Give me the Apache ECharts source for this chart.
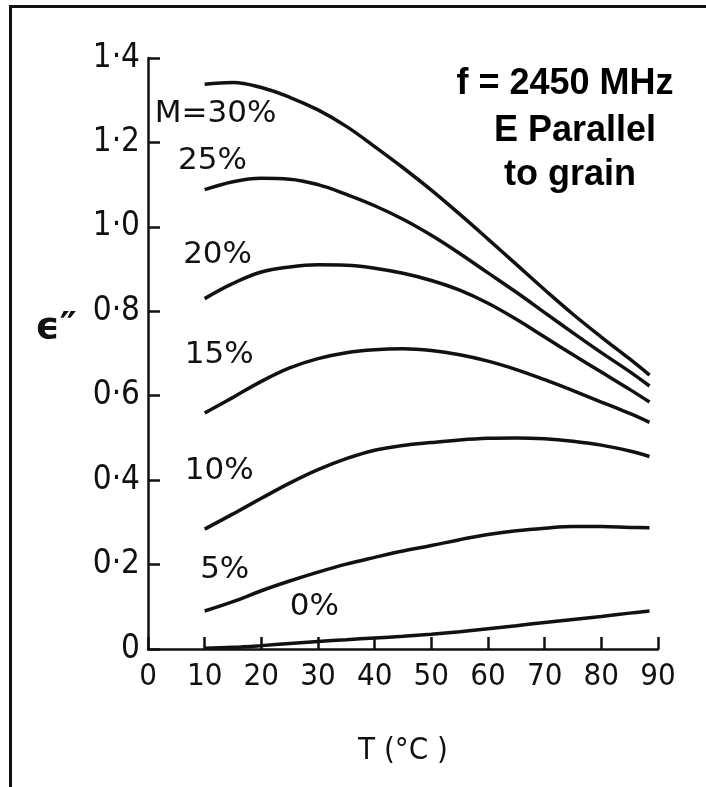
<!DOCTYPE html>
<html>
<head>
<meta charset="utf-8">
<script src="https://cdn.jsdelivr.net/npm/echarts@6/dist/echarts.min.js"></script>
<style>html,body{margin:0;padding:0;background:#fff}#chart{width:706px;height:787px}</style>
</head>
<body>
<div id="chart"></div>
<script>
/*----------data----------*/
var temps=[10,15,20,25,30,35,40,45,50,55,60,65,70,75,80,85,88.5];	// T (°C)
var m30=[1.338,1.342,1.33,1.307,1.277,1.238,1.19,1.14,1.087,1.03,0.971,0.911,0.851,0.793,0.739,0.687,0.649];
var m25=[1.088,1.107,1.115,1.113,1.1,1.077,1.05,1.018,0.98,0.937,0.891,0.845,0.797,0.749,0.702,0.657,0.623];
var m20=[0.83,0.866,0.893,0.905,0.91,0.909,0.902,0.89,0.873,0.85,0.819,0.781,0.739,0.697,0.656,0.615,0.585];
var m15=[0.559,0.596,0.634,0.666,0.688,0.702,0.709,0.711,0.707,0.697,0.682,0.662,0.638,0.612,0.585,0.558,0.537];
var m10=[0.284,0.32,0.357,0.393,0.425,0.451,0.471,0.482,0.489,0.495,0.499,0.5,0.498,0.492,0.483,0.469,0.456];
var m5=[0.09,0.112,0.138,0.161,0.182,0.201,0.217,0.232,0.245,0.259,0.271,0.28,0.286,0.29,0.29,0.288,0.287];
var m0=[0.002,0.004,0.008,0.013,0.018,0.022,0.026,0.03,0.035,0.041,0.048,0.055,0.063,0.07,0.077,0.085,0.09];
var curveNames=["M=30%","25%","20%","15%","10%","5%","0%"];
var curveValues=[m30,m25,m20,m15,m10,m5,m0];
var labelT=[1.2,5.3,6.2,6.5,6.5,9.2,25];	// where each curve name sits
var labelE=[1.268,1.156,0.934,0.697,0.422,0.187,0.1];
var titleLines=["f = 2450 MHz","E Parallel","to grain"];
/*----------chart---------*/
var chart=echarts.init(document.getElementById("chart"));
function pairs(ys){
	var out=[];
	for(var i=0;i<temps.length;i++){out.push([temps[i],ys[i]]);}
	return out;
}
var series=[];
for(var i=0;i<curveValues.length;i++){
	series.push({
		type:"line",
		name:curveNames[i],
		data:pairs(curveValues[i]),
		smooth:0.4,
		showSymbol:false,
		lineStyle:{color:"#111",width:3.5}
	});
}
var tickFont={fontFamily:"DejaVu Sans Condensed, DejaVu Sans",fontSize:31,color:"#111"};
var option={
	animation:false,
	backgroundColor:"#fff",
	grid:{left:148,right:48,top:58,bottom:138},
	xAxis:{
		type:"value",min:0,max:90,interval:10,
		name:"T (°C )",nameLocation:"middle",nameGap:86,
		nameTextStyle:{fontFamily:"DejaVu Sans Condensed, DejaVu Sans",fontSize:31,color:"#111"},
		axisLine:{lineStyle:{color:"#111",width:2.5}},
		axisTick:{inside:true,length:12,lineStyle:{color:"#111",width:2.5}},
		splitLine:{show:false},
		axisLabel:Object.assign({margin:12},tickFont)
	},
	yAxis:{
		type:"value",min:0,max:1.4,interval:0.2,
		axisLine:{show:true,lineStyle:{color:"#111",width:2.5}},
		axisTick:{show:true,inside:true,length:12,lineStyle:{color:"#111",width:2.5}},
		splitLine:{show:false},
		axisLabel:Object.assign({margin:8,formatter:function(v){return v===0?"0":v.toFixed(1).replace(".","·");}},tickFont,{fontSize:33})
	},
	series:series
};
chart.setOption(option);
/*----------annotations---*/
var graphics=[
	{type:"polyline",shape:{points:[[10.5,787],[10.5,6.5],[706,6.5]]},style:{stroke:"#111",lineWidth:3,fill:null}},
	{type:"text",x:56,y:328,style:{text:"ϵ″",font:"bold 38px DejaVu Sans",fill:"#111",align:"center",verticalAlign:"middle"}}
];
var titleX=[565,575,570],titleY=[84,131,175];
for(var j=0;j<titleLines.length;j++){
	graphics.push({type:"text",x:titleX[j],y:titleY[j],style:{text:titleLines[j],font:"bold 36px Liberation Sans, Arial",fill:"#000",align:"center",verticalAlign:"middle"}});
}
for(var k=0;k<curveNames.length;k++){
	var p=chart.convertToPixel({gridIndex:0},[labelT[k],labelE[k]]);
	graphics.push({type:"text",x:p[0],y:p[1],style:{text:curveNames[k],font:"31px DejaVu Sans",fill:"#111",align:"left",verticalAlign:"middle"}});
}
chart.setOption({graphic:graphics});
</script>
</body>
</html>
